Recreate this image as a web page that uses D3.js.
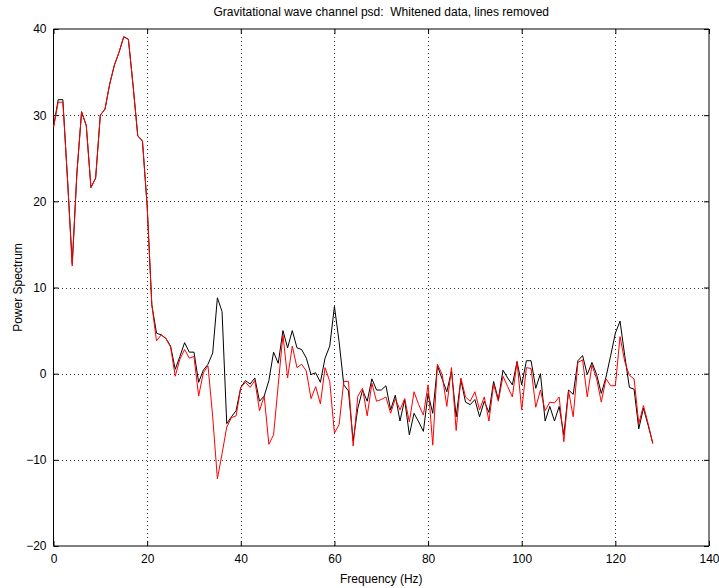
<!DOCTYPE html>
<html>
<head>
<meta charset="utf-8">
<script src="https://cdn.jsdelivr.net/npm/d3@7"></script>
<style>
  html, body { margin: 0; padding: 0; background: #fff; }
  svg text { font-family: "Liberation Sans", Arial, Helvetica, sans-serif; }
</style>
</head>
<body>
<svg id="chart" width="719" height="588"></svg>
<script>
// Frequency bins (Hz)
const freqs = d3.range(0, 129);

// Power spectrum of whitened data (black)
const whitened = [
  28.6, 31.8, 31.8, 22.5, 12.8, 23.3, 30.4, 28.8, 21.6, 22.7,
  30.0, 30.7, 33.6, 35.8, 37.3, 39.1, 38.8, 33.4, 27.6, 27.0,
  19.5, 8.0, 4.7, 4.5, 4.1, 3.2, 0.5, 2.0, 3.6, 2.5,
  2.5, -1.0, 0.4, 1.1, 2.4, 8.8, 7.2, -5.8, -5.0, -4.3,
  -1.6, -0.8, -1.2, -0.5, -3.2, -2.6, -0.8, 2.5, 1.2, 5.0,
  3.0, 5.0, 3.0, 2.8, 1.8, -0.1, 0.1, -1.0, 1.8, 3.2,
  7.8, 3.7, -1.3, -2.0, -7.8, -4.0, -1.9, -3.2, -0.6, -1.9,
  -1.9, -1.4, -4.2, -2.5, -5.5, -3.0, -7.1, -4.6, -5.6, -6.7,
  -2.3, -4.6, 0.9, -0.6, -2.1, 0.3, -5.0, -0.7, -3.3, -3.6,
  -3.0, -5.0, -3.2, -4.5, -0.9, -3.0, 0.4, -0.5, -1.3, 1.4,
  -1.3, 1.5, 1.5, -1.7, 0.0, -5.5, -3.8, -5.5, -3.8, -7.1,
  -1.9, -2.4, 1.5, 2.1, -0.1, 1.3, -0.1, -2.3, -0.4, 2.1,
  4.7, 6.1, 2.1, -1.6, -1.8, -6.4, -4.0, -6.0, -8.1
];

// Power spectrum with lines removed (red)
const linesRemoved = [
  28.6, 31.5, 31.5, 22.5, 12.5, 23.3, 30.4, 28.8, 21.6, 22.7,
  30.0, 30.7, 33.6, 35.8, 37.3, 39.1, 38.8, 33.4, 27.6, 27.0,
  19.5, 8.0, 3.8, 4.5, 4.1, 3.1, -0.3, 1.7, 2.8, 1.8,
  2.0, -2.6, 0.1, 0.9, -5.0, -12.2, -9.3, -6.2, -5.1, -4.9,
  -1.6, -1.0, -1.6, -0.8, -4.3, -2.6, -8.2, -7.1, -1.3, 4.5,
  -0.5, 3.2, 0.7, 1.1, 0.3, -2.9, -1.5, -3.5, 0.7, -0.9,
  -6.9, -5.9, -0.9, -0.9, -8.4, -2.6, -1.7, -4.9, -1.1, -3.2,
  -3.0, -2.7, -4.6, -2.9, -4.2, -2.9, -5.6, -2.1, -3.6, -4.8,
  -1.3, -8.3, 1.1, -0.1, -3.8, 0.7, -6.6, -0.5, -2.7, -3.2,
  -2.1, -4.2, -2.7, -5.5, -1.2, -3.2, -0.3, -1.5, -2.7, 1.4,
  -4.2, 0.7, 0.6, -3.9, -1.9, -4.3, -3.3, -3.4, -2.7, -7.9,
  -2.0, -5.0, 1.3, 1.6, -2.7, 1.0, -0.6, -3.3, -0.6, -1.4,
  -1.4, 4.3, 1.4, -0.2, -0.6, -5.8, -3.7, -5.8, -8.1
];

const xTicks = [0, 20, 40, 60, 80, 100, 120, 140];
const yTicks = [-20, -10, 0, 10, 20, 30, 40];

const titleText = "Gravitational wave channel psd:  Whitened data, lines removed";
const xLabel = "Frequency (Hz)";
const yLabel = "Power Spectrum";

const margin = { left: 53.5, right: 10, top: 29, bottom: 42 };
const W = 719, H = 588;
const svg = d3.select("#chart");

const x = d3.scaleLinear().domain([0, 140]).range([margin.left, W - margin.right]);
const y = d3.scaleLinear().domain([-20, 40]).range([H - margin.bottom, margin.top]);

const [x0, x1] = x.range();
const [y0, y1] = y.range(); // y0 bottom, y1 top

// dotted grid
const grid = svg.append("g").attr("stroke", "#000").attr("stroke-width", 1)
  .attr("stroke-dasharray", "1,3").attr("shape-rendering", "crispEdges").attr("opacity", 0.8);
xTicks.slice(1, -1).forEach(t => {
  grid.append("line").attr("x1", Math.round(x(t)) + 0.5).attr("x2", Math.round(x(t)) + 0.5)
    .attr("y1", y1).attr("y2", y0);
});
yTicks.slice(1, -1).forEach(t => {
  grid.append("line").attr("x1", x0).attr("x2", x1)
    .attr("y1", Math.round(y(t)) + 0.5).attr("y2", Math.round(y(t)) + 0.5);
});

// axes (ticks pointing inward, box on all sides)
const tickLen = 5;
const axBottom = d3.axisBottom(x).tickValues(xTicks).tickSize(-tickLen).tickPadding(8).tickFormat(d3.format("d"));
const axTop = d3.axisTop(x).tickValues(xTicks).tickSize(-tickLen).tickFormat("");
const axLeft = d3.axisLeft(y).tickValues(yTicks).tickSize(-tickLen).tickPadding(7).tickFormat(d3.format("d"));
const axRight = d3.axisRight(y).tickValues(yTicks).tickSize(-tickLen).tickFormat("");

function styleAxis(g) {
  g.selectAll("path.domain").attr("stroke", "#000").attr("stroke-width", 1);
  g.selectAll(".tick line").attr("stroke", "#000");
  g.selectAll("text").attr("fill", "#000").style("font-size", "12px")
    .style("font-family", "'Liberation Sans', Arial, sans-serif");
}

svg.append("g").attr("transform", `translate(0,${y0})`).call(axBottom).call(g => g.select(".domain").attr("d", `M${x0},0H${x1}`)).call(styleAxis);
svg.append("g").attr("transform", `translate(0,${y1})`).call(axTop).call(g => g.select(".domain").attr("d", `M${x0},0H${x1}`)).call(styleAxis);
svg.append("g").attr("transform", `translate(${x0},0)`).call(axLeft).call(g => g.select(".domain").attr("d", `M0,${y0}V${y1}`)).call(styleAxis);
svg.append("g").attr("transform", `translate(${x1},0)`).call(axRight).call(g => g.select(".domain").attr("d", `M0,${y0}V${y1}`)).call(styleAxis);

// spectra
const line = d3.line().x((d, i) => x(freqs[i])).y(d => y(d));
svg.append("path").datum(whitened).attr("d", line)
  .attr("fill", "none").attr("stroke", "#000").attr("stroke-width", 1);
svg.append("path").datum(linesRemoved).attr("d", line)
  .attr("fill", "none").attr("stroke", "#ff0000").attr("stroke-width", 1);

// labels
const cx = (x0 + x1) / 2;
svg.append("text").attr("x", cx).attr("y", 16).attr("text-anchor", "middle")
  .style("font-size", "12px").style("white-space", "pre").text(titleText);
svg.append("text").attr("x", cx).attr("y", 583).attr("text-anchor", "middle")
  .style("font-size", "12px").text(xLabel);
svg.append("text").attr("transform", `translate(22,${(y0 + y1) / 2}) rotate(-90)`)
  .attr("text-anchor", "middle").style("font-size", "12px").text(yLabel);
</script>
</body>
</html>
